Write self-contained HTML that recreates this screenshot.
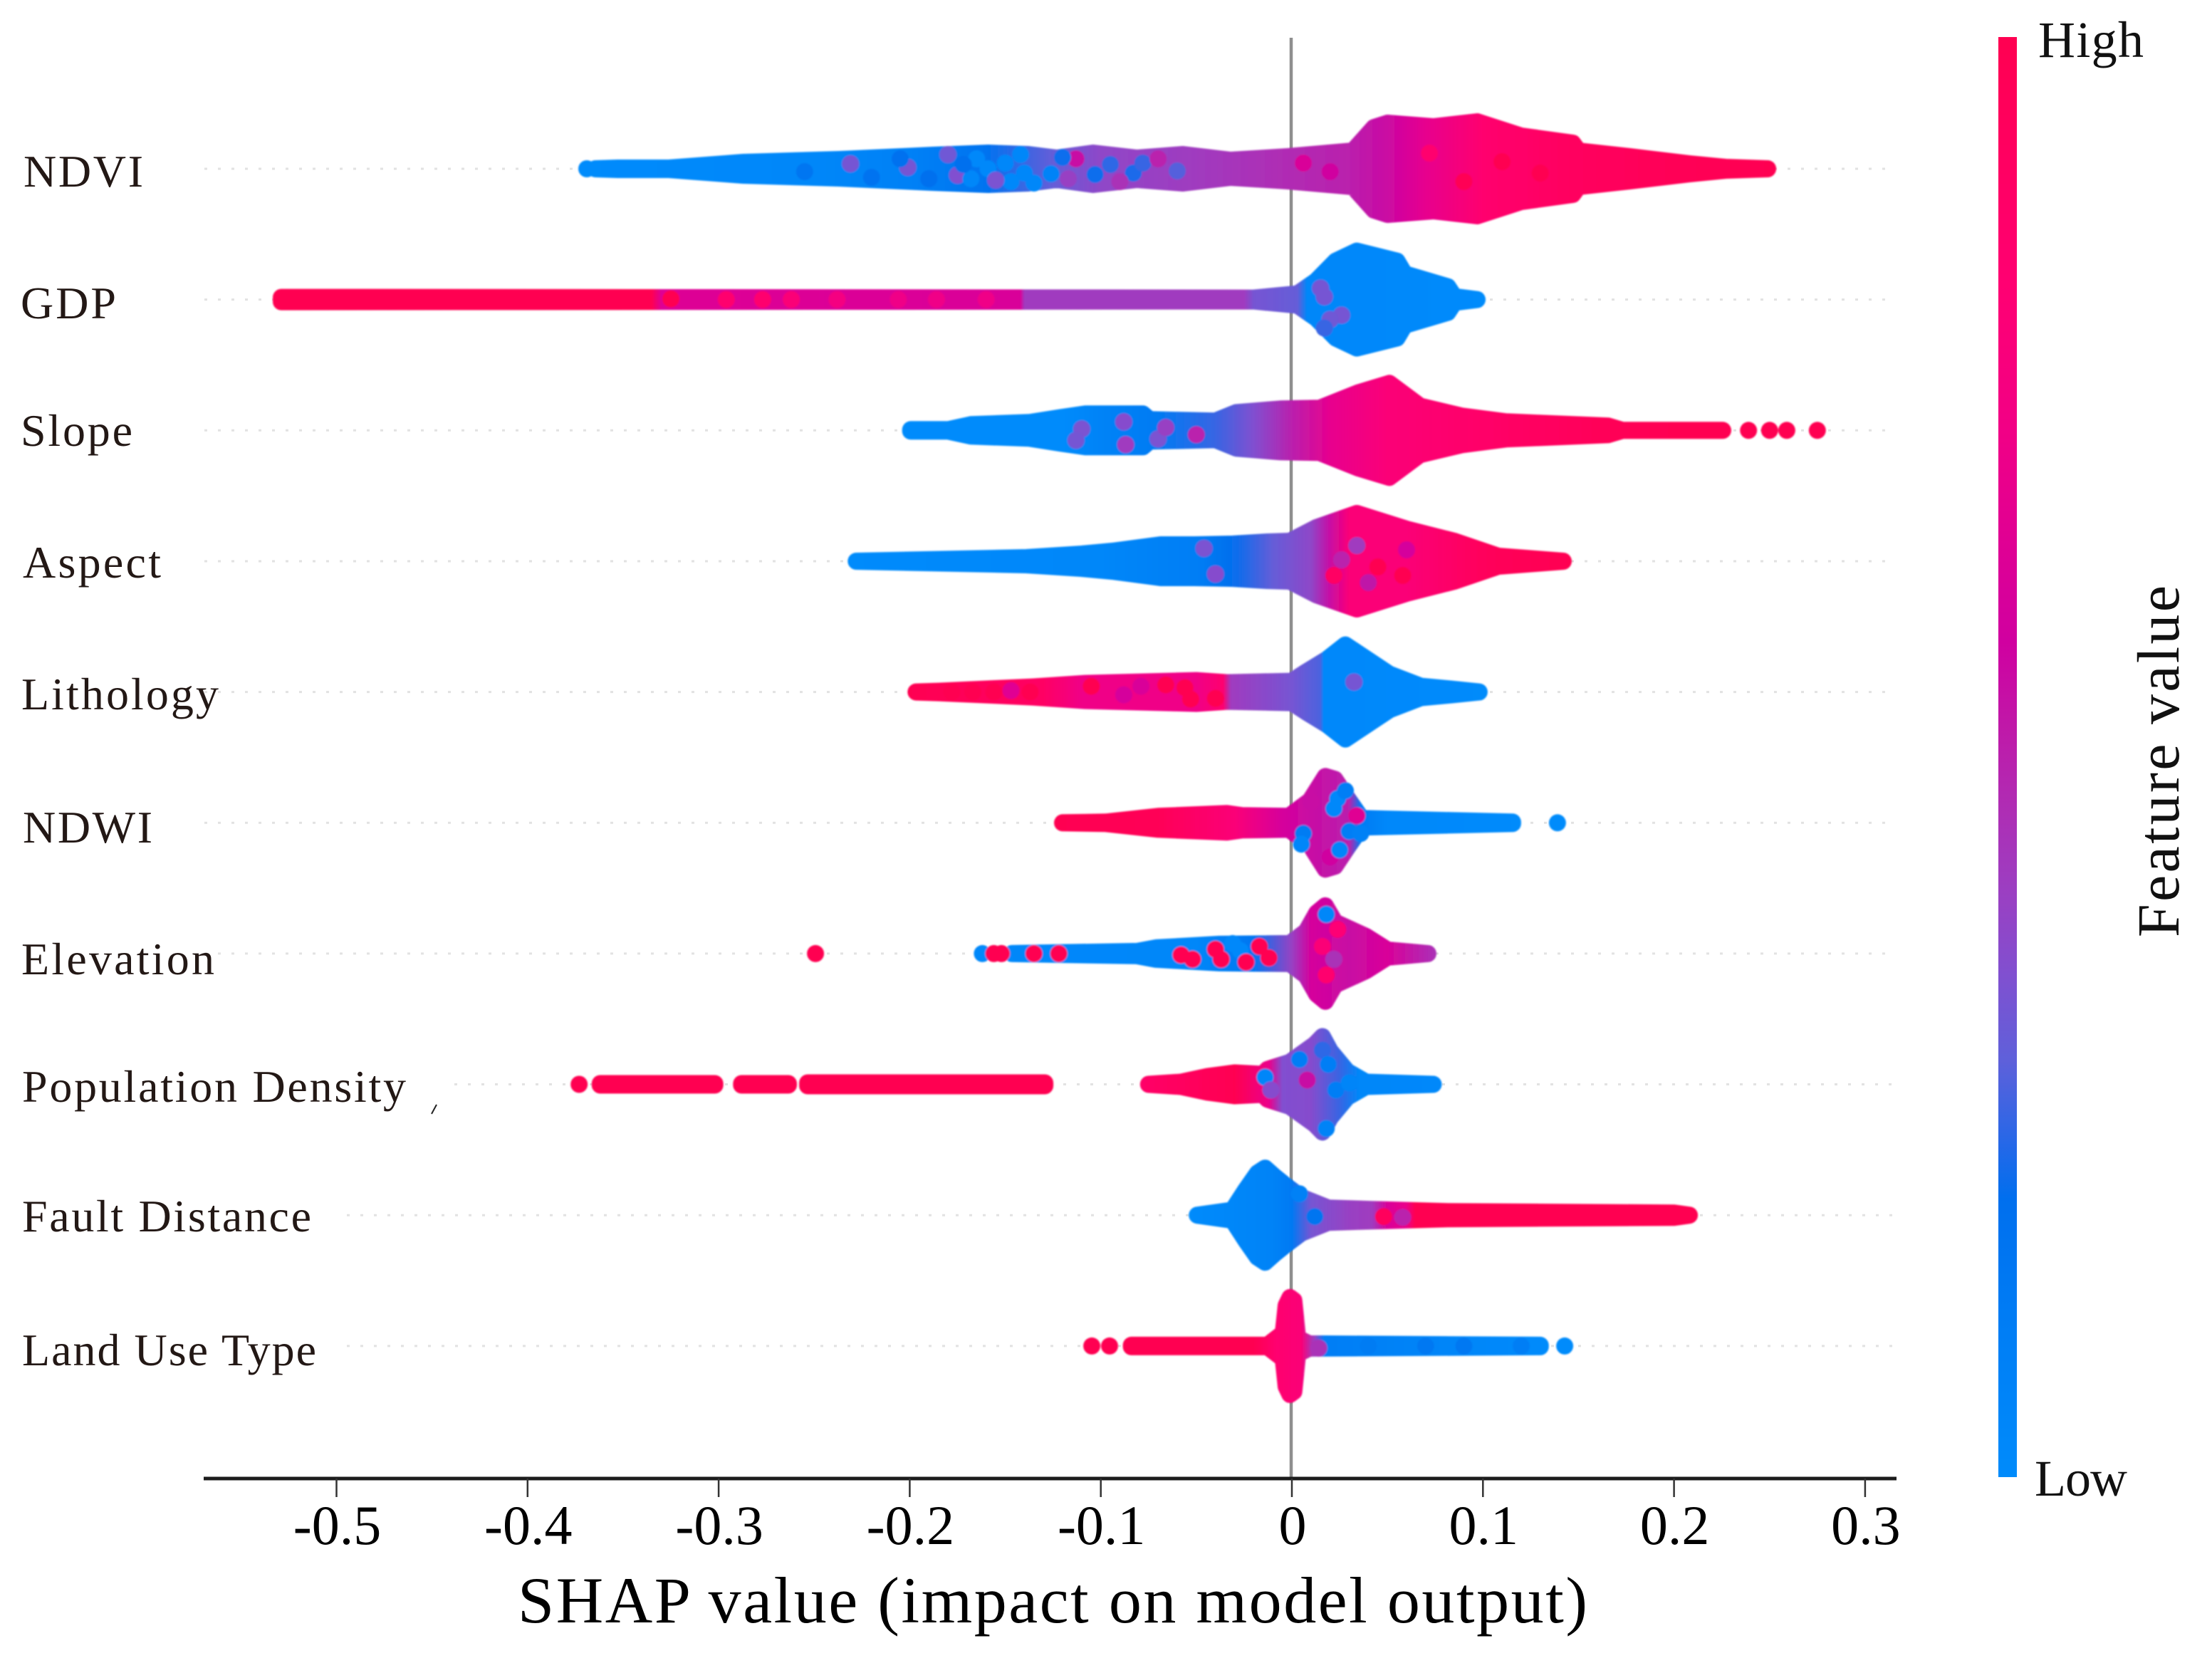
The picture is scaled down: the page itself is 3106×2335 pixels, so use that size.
<!DOCTYPE html>
<html lang="en">
<head>
<meta charset="utf-8">
<title>SHAP summary plot</title>
<style>
html,body{margin:0;padding:0;background:#fff;}
svg{display:block;}
text{font-family:"Liberation Serif","Times New Roman",serif;}
</style>
</head>
<body>
<svg id="chart" xmlns="http://www.w3.org/2000/svg" width="3106" height="2335" viewBox="0 0 3106 2335">
<rect width="3106" height="2335" fill="#fff"/>
<defs id="defs"><filter id="soft" filterUnits="userSpaceOnUse" x="0" y="0" width="3106" height="2335"><feGaussianBlur stdDeviation="1.1"/></filter></defs>
<g id="dotted"></g>
<line x1="1813" x2="1813" y1="53" y2="2076" stroke="#8f8f8f" stroke-width="4.5"/>
<g id="swarms" filter="url(#soft)"></g>
<g id="labels"></g>
<line x1="606" y1="1564" x2="613" y2="1551" stroke="#222" stroke-width="2"/>
<line x1="286" x2="2663" y1="2076" y2="2076" stroke="#1c1c1c" stroke-width="5"/>
<g id="ticks"></g>
<text x="727" y="2278" font-size="92" textLength="1502" fill="#000">SHAP value (impact on model output)</text>
<rect id="cbar" x="2806" y="52" width="26" height="2022"/>
<text x="2862" y="80" font-size="72" textLength="148" fill="#111">High</text>
<text x="2857" y="2100" font-size="72" textLength="130" fill="#111">Low</text>
<text transform="translate(3059 1316) rotate(-90)" font-size="84" textLength="494" fill="#111">Feature value</text>
</svg>
<script>
/* ---------- axis ticks ---------- */
const tickValues = [-0.5,-0.4,-0.3,-0.2,-0.1,0,0.1,0.2,0.3];
const tickLabels = ["-0.5","-0.4","-0.3","-0.2","-0.1","0","0.1","0.2","0.3"];

/* ---------- colour map (feature value -> colour) ---------- */
const cmapPos = [0,0.1,0.193,0.23,0.29,0.348,0.406,0.464,0.522,0.58,0.73,0.828,1];
const cmapHex = ["#008bfb","#007ef5","#006fee","#2468e8","#5f60da","#8050d0","#9b3fc2","#af2db4","#c018a8","#d000a0","#f20085","#ff0072","#ff0051"];

/* ---------- NDVI ---------- */
const ndviShap = [-0.3645,-0.353,-0.326,-0.287,-0.237,-0.188,-0.159,-0.138,-0.123,-0.104,-0.081,-0.057,-0.032,-0.002,0.032,0.043,0.05,0.074,0.097,0.12,0.147,0.15,0.177,0.208,0.227,0.249];
const ndviSpread = [0,1,1,9,13,19,22,20,15,22,15,20,12,17,25,58,64,59,66,46,36,25,17,7,2,0];
const ndviFvShap = [-0.369,-0.25,-0.2,-0.16,-0.125,-0.1,-0.05,0,0.03,0.05,0.07,0.1,0.15,0.2,0.2535];
const ndviFv = [0,0.03,0.08,0.17,0.3,0.38,0.42,0.47,0.5,0.56,0.68,0.85,0.93,0.97,1];
const ndviDots = [[-0.369,0,0],[-0.231,-7,0.33],[-0.201,-2,0.33],[-0.18,-20,0.32],[-0.175,9,0.35],[-0.168,14,0.03],[-0.159,0,0.02],[-0.165,-14,0.02],[-0.15,-8,0.03],[-0.147,18,0.02],[-0.14,6,0.03],[-0.135,20,0.03],[-0.126,7,0.06],[-0.142,-20,0.03],[-0.113,-14,0.55],[-0.095,-6,0.24],[-0.103,8,0.2],[-0.083,6,0.22],[-0.078,-8,0.25],[-0.06,3,0.28],[0.006,-8,0.62],[0.02,4,0.58],[0.11,-10,1],[0.09,18,0.98],[0.072,-22,0.85],[0.13,6,1],[-0.255,4,0.15],[-0.22,12,0.17],[-0.205,-14,0.18],[-0.19,14,0.19],[-0.172,-6,0.19],[-0.155,16,0.34],[-0.12,-16,0.2],[-0.117,14,0.4],[-0.09,18,0.45],[-0.07,-14,0.5]];

/* ---------- GDP ---------- */
const gdpShap = [-0.5289,-0.02,0.003,0.0127,0.023,0.034,0.055,0.059,0.0816,0.085,0.0969];
const gdpSpread = [3,2,8,26,54,68,54,36,18,4,0];
const gdpFvShap = [-0.5334,-0.335,-0.33,-0.142,-0.14,-0.025,-0.02,0.003,0.008,0.1014];
const gdpFv = [1,1,0.64,0.62,0.42,0.42,0.33,0.3,0.03,0];
const gdpDots = [[-0.325,-1,1],[-0.296,0,0.85],[-0.277,0,0.85],[-0.262,0,0.8],[-0.238,0,0.75],[-0.206,0,0.72],[-0.186,0,0.72],[-0.16,0,0.72],[0.015,-16,0.33],[0.017,-4,0.33],[0.026,22,0.33],[0.02,28,0.32],[0.017,40,0.25]];

/* ---------- Slope ---------- */
const slopeShap = [-0.1995,-0.18,-0.168,-0.1375,-0.121,-0.108,-0.078,-0.0745,-0.04,-0.029,-0.006,0.0145,0.035,0.051,0.067,0.089,0.112,0.1655,0.173,0.2255];
const slopeSpread = [1,1,8,11,18,23,23,15,13,25,30,31,53,66,34,20,12,6,0,0];
const slopeFvShap = [-0.204,-0.12,-0.1,-0.07,-0.04,-0.02,0,0.02,0.05,0.1,0.15,0.2,0.23];
const slopeFv = [0,0,0.06,0.12,0.25,0.35,0.5,0.68,0.8,0.88,0.95,1,1];
const slopeDots = [[0.239,0,1],[0.25,0,1],[0.259,0,1],[0.275,0,1],[-0.11,-2,0.34],[-0.113,14,0.33],[-0.088,-12,0.36],[-0.087,20,0.42],[-0.07,12,0.34],[-0.066,-4,0.4],[-0.05,6,0.5]];

/* ---------- Aspect ---------- */
const aspectShap = [-0.228,-0.139,-0.11,-0.094,-0.0686,-0.051,-0.031,-0.013,-0.001,0.0127,0.034,0.06,0.085,0.108,0.142];
const aspectSpread = [0,5,10,14,23,23,24,27,28,47,67,45,28,7,0];
const aspectFvShap = [-0.2325,-0.1,-0.05,-0.03,-0.01,0.01,0.02,0.03,0.06,0.1,0.1465];
const aspectFv = [0,0.03,0.1,0.2,0.3,0.38,0.55,0.8,0.8,0.95,1];
const aspectDots = [[-0.046,-18,0.34],[-0.04,18,0.36],[0.034,-22,0.42],[0.022,20,0.9],[0.026,-2,0.5],[0.04,30,0.52],[0.045,8,1],[0.06,-16,0.6],[0.058,20,1]];

/* ---------- Lithology ---------- */
const lithologyShap = [-0.1967,-0.185,-0.1357,-0.108,-0.05,-0.034,0,0.0075,0.0185,0.028,0.051,0.0675,0.0835,0.098];
const lithologySpread = [0,1,7,12,16,13,15,28,46,66,25,8,4,0];
const lithologyFvShap = [-0.2012,-0.13,-0.11,-0.05,-0.036,-0.032,0,0.015,0.0165,0.1025];
const lithologyFv = [1,0.9,0.72,0.72,0.85,0.42,0.33,0.27,0.02,0];
const lithologyDots = [[-0.178,0,1],[-0.167,0,1],[-0.156,0,1],[-0.147,-2,0.65],[-0.137,0,1],[-0.105,-8,1],[-0.088,4,0.6],[-0.066,-10,1],[-0.056,-6,1],[-0.053,10,1],[-0.04,9,1],[0.0325,-14,0.33],[-0.079,-8,0.62]];

/* ---------- NDWI ---------- */
const ndwiShap = [-0.12,-0.0973,-0.07,-0.034,-0.026,-0.0015,0.0095,0.0175,0.0225,0.0295,0.0365,0.1155];
const ndwiSpread = [0,1,9,13,10,9,31,65,61,33,6,1];
const ndwiFvShap = [-0.1245,-0.07,-0.03,-0.005,0.01,0.03,0.036,0.05,0.12];
const ndwiFv = [1,0.97,0.8,0.6,0.55,0.5,0.12,0.02,0];
const ndwiDots = [[0.024,-34,0.02],[0.022,-20,0.02],[0.028,-45,0.1],[0.01,-30,0.55],[0.02,48,0.58],[0.006,15,0.12],[0.005,30,0.04],[0.025,38,0.04],[0.034,-10,0.65],[0.03,12,0.1],[0.139,0,0],[0.036,15,0.08]];

/* ---------- Elevation ---------- */
const elevationShap = [-0.1465,-0.081,-0.071,-0.038,-0.001,0.0075,0.013,0.0175,0.0225,0.0388,0.05,0.0712];
const elevationSpread = [0,3,8,13,14,31,57,67,44,24,5,0];
const elevationFvShap = [-0.1465,-0.05,-0.02,0,0.01,0.03,0.05,0.0757];
const elevationFv = [0.02,0.03,0.15,0.4,0.6,0.55,0.62,0.45];
const elevationDots = [[-0.2493,0,1],[-0.162,0,0.02],[-0.156,0,1],[-0.152,0,1],[-0.142,0,0.03],[-0.135,0,1],[-0.122,0,1],[-0.058,2,1],[-0.052,8,1],[-0.04,-6,1],[-0.037,8,1],[-0.027,-4,0.02],[-0.024,12,1],[-0.017,-10,1],[-0.012,6,1],[-0.031,-14,0.02],[0.018,-55,0.03],[0.016,-10,0.8],[0.024,-34,0.82],[0.018,30,0.85],[0.022,8,0.45]];

/* ---------- Population Density ---------- */
const populationShap = [-0.362,-0.302,0,-0.288,-0.2635,0,-0.2534,-0.1293,0,-0.075,-0.058,-0.044,-0.03,-0.0153,-0.0127,-0.001,0.012,0.016,0.02,0.029,0.0388,0.074];
const populationSpread = [1,1,null,1,1,null,2,2,null,0,3,11,16,14,21,31,56,67,47,18,3,0];
const populationFvShap = [-0.373,-0.1,-0.08,-0.05,-0.03,-0.012,-0.005,0.01,0.025,0.035,0.0786];
const populationFv = [1,1,0.88,0.95,1,0.7,0.35,0.36,0.25,0.03,0.02];
const populationDots = [[-0.373,0,1],[-0.014,-10,0.04],[-0.011,8,0.36],[0.004,-35,0.1],[0.016,-48,0.24],[0.019,-28,0.1],[0.018,62,0.06],[0.008,-6,0.55],[0.023,8,0.1],[0.03,-2,0.05]];

/* ---------- Fault Distance ---------- */
const faultShap = [-0.0495,-0.031,-0.024,-0.018,-0.014,-0.009,-0.003,0.005,0.019,0.042,0.0816,0.2,0.208];
const faultSpread = [0,7,36,59,66,54,41,25,10,8,5,3,0];
const faultFvShap = [-0.054,-0.01,0,0.01,0.03,0.042,0.05,0.06,0.0645,0.2125];
const faultFv = [0,0.06,0.13,0.33,0.4,0.42,0.62,0.7,1,1];
const faultDots = [[0.004,-30,0.08],[0.012,2,0.16],[0.048,2,0.95],[0.058,3,0.5]];

/* ---------- Land Use Type ---------- */
const landShap = [-0.084,-0.0127,-0.0045,-0.003,-0.001,0.001,0.003,0.009,0.13];
const landSpread = [1,1,18,57,68,64,11,3,1];
const landFvShap = [-0.1047,-0.02,-0.009,0.005,0.012,0.017,0.133];
const landFv = [1,1,0.85,0.8,0.4,0.1,0];
const landDots = [[-0.1047,0,1],[-0.0954,0,1],[0.1428,0,0],[0.014,3,0.45],[0.04,0,0.12],[0.07,0,0.14],[0.09,0,0.14],[0.12,0,0.1]];

/* ---------- features ---------- */
const featureNames = ["NDVI","GDP","Slope","Aspect","Lithology","NDWI","Elevation","Population Density","Fault Distance","Land Use Type"];
const featureSlugs = ["ndvi","gdp","slope","aspect","lithology","ndwi","elevation","population-density","fault-distance","land-use-type"];
const featureShap = [ndviShap,gdpShap,slopeShap,aspectShap,lithologyShap,ndwiShap,elevationShap,populationShap,faultShap,landShap];
const featureSpread = [ndviSpread,gdpSpread,slopeSpread,aspectSpread,lithologySpread,ndwiSpread,elevationSpread,populationSpread,faultSpread,landSpread];
const featureFvShap = [ndviFvShap,gdpFvShap,slopeFvShap,aspectFvShap,lithologyFvShap,ndwiFvShap,elevationFvShap,populationFvShap,faultFvShap,landFvShap];
const featureFv = [ndviFv,gdpFv,slopeFv,aspectFv,lithologyFv,ndwiFv,elevationFv,populationFv,faultFv,landFv];
const featureDots = [ndviDots,gdpDots,slopeDots,aspectDots,lithologyDots,ndwiDots,elevationDots,populationDots,faultDots,landDots];

/* ---------- layout helpers ---------- */
const NS = "http://www.w3.org/2000/svg";
const labelX = [33,29,29,32,30,32,30,31,31,31];
const labelW = [168,134,157,194,277,182,271,539,406,413];
const labelBase = [262,447,626,811,996,1183,1368,1547,1729,1917];
const guideStart = [287,287,287,287,287,287,287,638,487,487];
const xScale = v => 1814 + 2683 * v;
const yRow = i => 237 + 183.65 * i;
const DOT_R = 12;

function hexRgb(h){return [1,3,5].map(k=>parseInt(h.substr(k,2),16));}
function fvColor(fv){
  for(let k=1;k<cmapPos.length;k++){
    if(fv<=cmapPos[k]){
      const t=(fv-cmapPos[k-1])/(cmapPos[k]-cmapPos[k-1]);
      const a=hexRgb(cmapHex[k-1]),b=hexRgb(cmapHex[k]);
      return "rgb("+a.map((c,j)=>Math.round(c+(b[j]-c)*t)).join(",")+")";
    }
  }
  return cmapHex[cmapHex.length-1];
}
const defs=document.getElementById("defs");
function addGradient(id,x1,y1,x2,y2,stops){
  const g=document.createElementNS(NS,"linearGradient");
  g.setAttribute("id",id);
  g.setAttribute("gradientUnits","userSpaceOnUse");
  g.setAttribute("x1",x1);g.setAttribute("y1",y1);g.setAttribute("x2",x2);g.setAttribute("y2",y2);
  stops.forEach(s=>{
    const st=document.createElementNS(NS,"stop");
    st.setAttribute("offset",s[0]);
    st.setAttribute("stop-color",s[1]);
    g.appendChild(st);
  });
  defs.appendChild(g);
}

/* colourbar */
addGradient("cbarGrad",0,2074,0,52,cmapPos.map((p,k)=>[p,cmapHex[k]]));
document.getElementById("cbar").setAttribute("fill","url(#cbarGrad)");

/* rows */
const swarmLayer=document.getElementById("swarms");
const guideLayer=document.getElementById("dotted");
const labelLayer=document.getElementById("labels");
featureNames.forEach((name,i)=>{
  const cy=yRow(i);
  const slug=featureSlugs[i];

  const guide=document.createElementNS(NS,"line");
  
  
  guide.setAttribute("x1",guideStart[i]);guide.setAttribute("x2",2658);
  guide.setAttribute("y1",cy);guide.setAttribute("y2",cy);
  guide.setAttribute("stroke","#e2e2e2");guide.setAttribute("stroke-width",3);
  guide.setAttribute("stroke-dasharray","4 15");
  guideLayer.appendChild(guide);

  const label=document.createElementNS(NS,"text");
  
  
  label.setAttribute("x",labelX[i]);label.setAttribute("y",labelBase[i]);
  label.setAttribute("font-size",64);label.setAttribute("fill","#231815");
  label.setAttribute("textLength",labelW[i]);
  label.textContent=name;
  labelLayer.appendChild(label);

  const fvS=featureFvShap[i],fv=featureFv[i];
  const x1=xScale(fvS[0]),x2=xScale(fvS[fvS.length-1]);
  const gid="grad-"+slug;
  addGradient(gid,x1,0,x2,0,fvS.map((s,k)=>[(xScale(s)-x1)/(x2-x1),fvColor(fv[k])]));

  const group=document.createElementNS(NS,"g");
  
  
  swarmLayer.appendChild(group);

  /* envelope(s) of the beeswarm; null spread splits the strip */
  const shap=featureShap[i],spread=featureSpread[i];
  let segs=[],cur=[];
  shap.forEach((s,k)=>{
    if(spread[k]===null){if(cur.length)segs.push(cur);cur=[];}
    else cur.push([s,spread[k]]);
  });
  if(cur.length)segs.push(cur);
  segs.forEach(seg=>{
    const top=seg.map(p=>xScale(p[0]).toFixed(1)+","+(cy-p[1]).toFixed(1));
    const bot=seg.slice().reverse().map(p=>xScale(p[0]).toFixed(1)+","+(cy+p[1]).toFixed(1));
    const poly=document.createElementNS(NS,"polygon");
    
    
    poly.setAttribute("points",top.concat(bot).join(" "));
    poly.setAttribute("fill","url(#"+gid+")");
    poly.setAttribute("stroke","url(#"+gid+")");
    poly.setAttribute("stroke-width",DOT_R*2);
    poly.setAttribute("stroke-linejoin","round");
    group.appendChild(poly);
  });

  /* individually visible points */
  featureDots[i].forEach(d=>{
    const c=document.createElementNS(NS,"circle");
    
    
    c.setAttribute("cx",xScale(d[0]).toFixed(1));
    c.setAttribute("cy",(cy+d[1]).toFixed(1));
    c.setAttribute("r",DOT_R);
    c.setAttribute("fill",fvColor(d[2]));
    group.appendChild(c);
  });
});

/* ticks */
const tickLayer=document.getElementById("ticks");
tickValues.forEach((v,k)=>{
  const t=document.createElementNS(NS,"line");
  
  
  t.setAttribute("x1",xScale(v));t.setAttribute("x2",xScale(v));
  t.setAttribute("y1",2076);t.setAttribute("y2",2102);
  t.setAttribute("stroke","#333");t.setAttribute("stroke-width",2.5);
  tickLayer.appendChild(t);
  const l=document.createElementNS(NS,"text");
  
  
  l.setAttribute("x",xScale(v)+1);l.setAttribute("y",2168);
  l.setAttribute("font-size",78);l.setAttribute("text-anchor","middle");l.setAttribute("fill","#000");
  l.textContent=tickLabels[k];
  tickLayer.appendChild(l);
});
</script>
</body>
</html>
